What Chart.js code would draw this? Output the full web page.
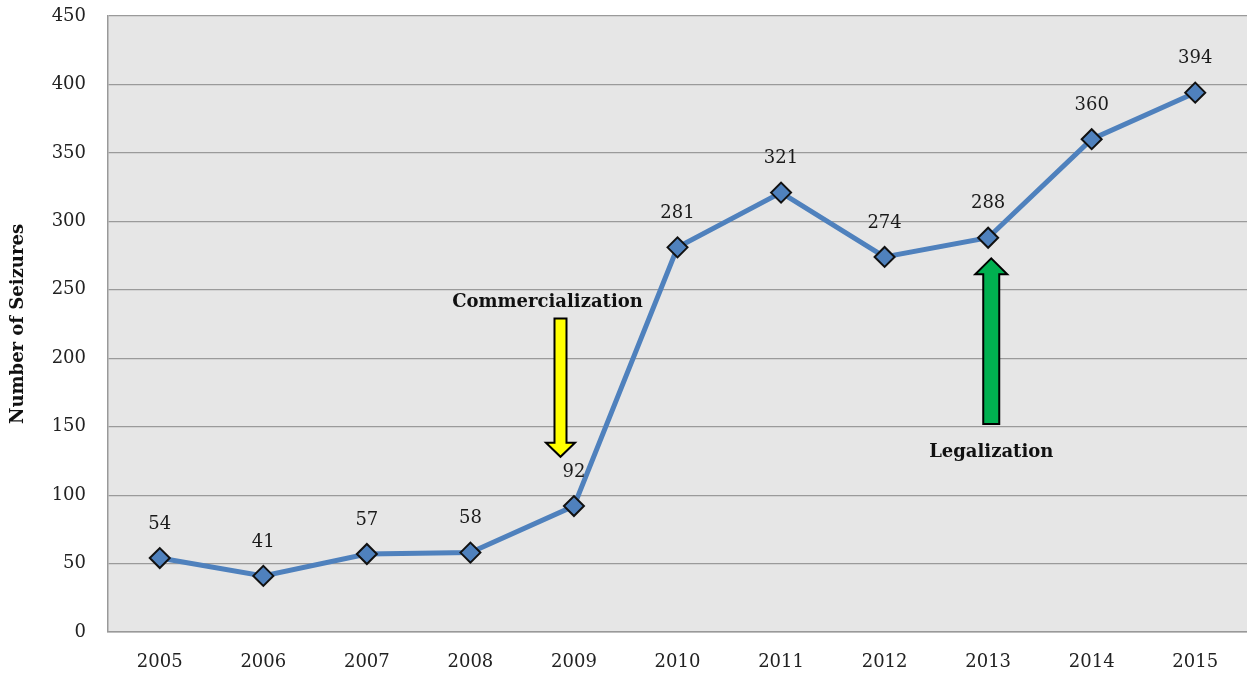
<!DOCTYPE html>
<html>
<head>
<meta charset="utf-8">
<script src="https://cdn.jsdelivr.net/npm/chart.js@4.4.0/dist/chart.umd.min.js"></script>
<style>
  html, body { margin: 0; padding: 0; background: #fff; overflow: hidden; }
  canvas { display: block; }
</style>
</head>
<body>
<canvas id="seizures" width="1247" height="676"></canvas>
<script>
// Seizures per year
var years = ['2005', '2006', '2007', '2008', '2009', '2010', '2011', '2012', '2013', '2014', '2015'];
var seizures = [54, 41, 57, 58, 92, 281, 321, 274, 288, 360, 394];
var yTicks = [0, 50, 100, 150, 200, 250, 300, 350, 400, 450];

// arrows: x as category index, y in data units
var arrows = [
    { label: 'Commercialization', x: 3.87, from: 229, to: 128, color: '#ffff00', labelY: 241, labelDx: -13 },
    { label: 'Legalization', x: 8.03, from: 152, to: 273, color: '#00b050', labelY: 131, labelDx: 0 }
];

var serif = '"DejaVu Serif", "Liberation Serif", serif';

// gray plot background
var plotBg = {
    id: 'plotBg',
    beforeDraw: function(chart) {
        var a = chart.chartArea, ctx = chart.ctx;
        ctx.save();
        ctx.fillStyle = '#e6e6e6';
        ctx.fillRect(a.left, a.top, a.right - a.left, a.bottom - a.top);
        ctx.restore();
    }
};

// value labels above points + arrows
var extras = {
    id: 'extras',
    afterDatasetsDraw: function(chart) {
        var ctx = chart.ctx;
        var xs = chart.scales.x, ys = chart.scales.y;
        var meta = chart.getDatasetMeta(0);
        ctx.save();
        ctx.font = '18px ' + serif;
        ctx.fillStyle = '#1a1a1a';
        ctx.textAlign = 'center';
        ctx.textBaseline = 'middle';
        meta.data.forEach(function(pt, i) {
            ctx.fillText(String(seizures[i]), pt.x, pt.y - 34);
        });

        arrows.forEach(function(ar) {
            var step = xs.getPixelForValue(1) - xs.getPixelForValue(0);
            var cx = xs.getPixelForValue(0) + ar.x * step;
            var y0 = ys.getPixelForValue(ar.from);
            var y1 = ys.getPixelForValue(ar.to);
            var dir = y1 > y0 ? 1 : -1;
            var big = ar.color !== '#ffff00';
            var shaftW = big ? 8 : 6;
            var headW = big ? 16 : 14.5;
            var headL = big ? 16 : 14;
            var yh = y1 - dir * headL;
            ctx.beginPath();
            ctx.moveTo(cx - shaftW, y0);
            ctx.lineTo(cx - shaftW, yh);
            ctx.lineTo(cx - headW, yh);
            ctx.lineTo(cx, y1);
            ctx.lineTo(cx + headW, yh);
            ctx.lineTo(cx + shaftW, yh);
            ctx.lineTo(cx + shaftW, y0);
            ctx.closePath();
            ctx.fillStyle = ar.color;
            ctx.fill();
            ctx.lineWidth = 2;
            ctx.strokeStyle = '#000';
            ctx.stroke();

            ctx.font = 'bold 18px ' + serif;
            ctx.fillStyle = '#111';
            ctx.fillText(ar.label, cx + ar.labelDx, ys.getPixelForValue(ar.labelY));
        });
        ctx.restore();
    }
};

var config = {
    type: 'line',
    data: {
        labels: years,
        datasets: [
            {
                label: 'Seizures',
                data: seizures,
                borderColor: '#4f81bd',
                borderWidth: 5,
                pointStyle: 'rectRot',
                pointRadius: 10,
                pointBackgroundColor: '#4f81bd',
                pointBorderColor: '#111',
                pointBorderWidth: 2,
                tension: 0,
                clip: false
            }
        ]
    },
    options: {
        responsive: false,
        animation: false,
        layout: { autoPadding: false, padding: { top: 16, right: 0, left: 0, bottom: 0 } },
        plugins: {
            legend: { display: false },
            tooltip: { enabled: false }
        },
        scales: {
            x: {
                offset: true,
                grid: { display: false, drawTicks: false },
                border: { color: '#999', width: 1.5 },
                ticks: {
                    color: '#222',
                    font: { family: serif, size: 18 },
                    padding: 20
                },
                afterFit: function(s) {
                    s.height = 44;
                    s.paddingLeft = 0;
                    s.paddingRight = 0;
                }
            },
            y: {
                min: 0,
                max: 450,
                afterBuildTicks: function(s) {
                    s.ticks = yTicks.map(function(v) { return { value: v }; });
                },
                grid: { color: '#9a9a9a', lineWidth: 1.2, drawTicks: false },
                border: { color: '#999', width: 1.5 },
                ticks: {
                    color: '#222',
                    font: { family: serif, size: 18 },
                    padding: 22
                },
                title: {
                    display: true,
                    text: 'Number of Seizures',
                    color: '#111',
                    font: { family: serif, size: 18, weight: 'bold' },
                    padding: { top: 8, bottom: 0 }
                },
                afterFit: function(s) {
                    s.width = 108;
                    s.paddingTop = 0;
                    s.paddingBottom = 0;
                }
            }
        }
    },
    plugins: [plotBg, extras]
};

var chart = new Chart(document.getElementById('seizures'), config);
</script>
</body>
</html>
